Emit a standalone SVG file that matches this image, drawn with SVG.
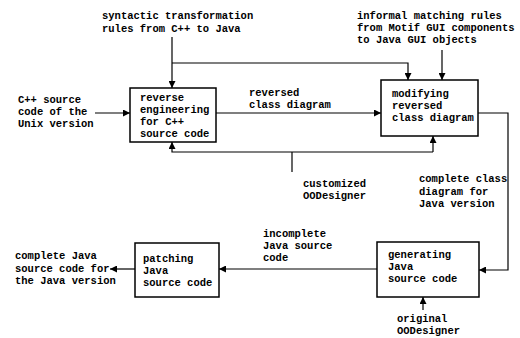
<svg xmlns="http://www.w3.org/2000/svg" width="520" height="338" viewBox="0 0 520 338">
<defs>
<marker id="ah" viewBox="0 0 10 10" refX="10" refY="5" markerWidth="7" markerHeight="7" markerUnits="userSpaceOnUse" orient="auto">
<path d="M0,0 L10,5 L0,10 z" fill="#000"/>
</marker>
<style>
text{font-family:"Liberation Mono","DejaVu Sans Mono",monospace;font-size:10.5px;font-weight:bold;fill:#000}
.box{fill:#fff;stroke:#000;stroke-width:1.5}
.ln{fill:none;stroke:#000;stroke-width:1.2}
.arr{fill:none;stroke:#000;stroke-width:1.2;marker-end:url(#ah)}
</style>
</defs>
<rect width="520" height="338" fill="#fff"/>
<g id="connectors">
<path class="arr" d="M172,37 V88"/>
<path class="arr" d="M172,63 H408 V80"/>
<path class="arr" d="M442,50 V80"/>
<path class="arr" d="M95,113 H130"/>
<path class="arr" d="M216,113 H381"/>
<path class="arr" d="M433,152 V136"/>
<path class="arr" d="M433,152 H172 V142"/>
<path class="ln" d="M292,152 V172"/>
<path class="arr" d="M478,113 H508 V270 H479"/>
<path class="arr" d="M377,269 H219"/>
<path class="arr" d="M135,269 H110"/>
<path class="arr" d="M423,310 V297"/>
</g>
<g id="labels">
<text x="102" y="19">syntactic transformation</text>
<text x="102" y="32">rules from C++ to Java</text>
<text x="357" y="19">informal matching rules</text>
<text x="357" y="31">from Motif GUI components</text>
<text x="357" y="43">to Java GUI objects</text>
<text x="249" y="96">reversed</text>
<text x="249" y="108">class diagram</text>
<text x="18" y="103">C++ source</text>
<text x="18" y="115">code of the</text>
<text x="18" y="127">Unix version</text>
<text x="303" y="187">customized</text>
<text x="303" y="199">OODesigner</text>
<text x="419" y="182">complete class</text>
<text x="419" y="195">diagram for</text>
<text x="419" y="207">Java version</text>
<text x="263" y="237">incomplete</text>
<text x="263" y="249">Java source</text>
<text x="263" y="261">code</text>
<text x="15" y="259">complete Java</text>
<text x="15" y="272">source code for</text>
<text x="15" y="284">the Java version</text>
<text x="397" y="322">original</text>
<text x="397" y="334">OODesigner</text>
</g>
<g id="reverse-engineering">
<rect class="box" x="130" y="88" width="86" height="54"/>
<text x="140" y="101">reverse</text>
<text x="140" y="113">engineering</text>
<text x="140" y="125">for C++</text>
<text x="140" y="137">source code</text>
</g>
<g id="modifying">
<rect class="box" x="381" y="80" width="97" height="56"/>
<text x="392" y="97">modifying</text>
<text x="392" y="109">reversed</text>
<text x="392" y="121">class diagram</text>
</g>
<g id="patching">
<rect class="box" x="135" y="243" width="84" height="54"/>
<text x="143" y="262">patching</text>
<text x="143" y="274">Java</text>
<text x="143" y="286">source code</text>
</g>
<g id="generating">
<rect class="box" x="377" y="242" width="102" height="55"/>
<text x="388" y="258">generating</text>
<text x="388" y="270">Java</text>
<text x="388" y="282">source code</text>
</g>
</svg>
